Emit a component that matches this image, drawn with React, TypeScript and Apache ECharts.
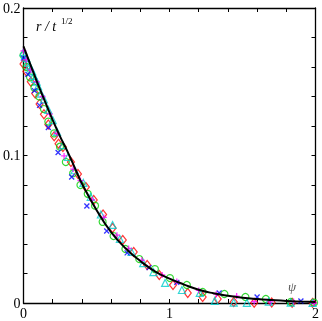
import React, { useEffect, useRef } from "react";
import * as echarts from "echarts";

const curveX = [0, 0.05, 0.1, 0.15, 0.2, 0.25, 0.3, 0.35, 0.4, 0.5, 0.6, 0.7, 0.8, 0.9, 1.0, 1.1, 1.2, 1.3, 1.4, 1.5, 1.6, 1.7, 1.8, 1.9, 2.0];
const curveY = [0.174, 0.161, 0.148, 0.136, 0.124, 0.113, 0.103, 0.092, 0.081, 0.063, 0.048, 0.037, 0.0285, 0.0215, 0.0165, 0.0125, 0.009, 0.0066, 0.0049, 0.0036, 0.0027, 0.002, 0.0014, 0.001, 0.0007];

const redX = [0.0, 0.02, 0.05, 0.08, 0.11, 0.14, 0.17, 0.21, 0.24, 0.27, 0.325, 0.373, 0.427, 0.481, 0.545, 0.61, 0.68, 0.755, 0.847, 0.93, 1.024, 1.125, 1.227, 1.33, 1.44, 1.58, 1.7, 1.84, 1.98];
const redY = [0.162, 0.157, 0.15, 0.142, 0.135, 0.128, 0.121, 0.113, 0.108, 0.1058, 0.0956, 0.0875, 0.0786, 0.0698, 0.06, 0.0508, 0.0427, 0.0346, 0.0258, 0.019, 0.0122, 0.0068, 0.0041, 0.0027, 0.0007, 0.0002, 0.0003, 0.0002, 0.0001];

const greenX = [0.0, 0.02, 0.045, 0.075, 0.108, 0.14, 0.17, 0.21, 0.25, 0.29, 0.34, 0.39, 0.44, 0.49, 0.542, 0.617, 0.698, 0.793, 0.9, 1.003, 1.119, 1.227, 1.376, 1.52, 1.66, 1.83, 1.99];
const greenY = [0.168, 0.16, 0.153, 0.146, 0.14, 0.1315, 0.123, 0.115, 0.106, 0.0956, 0.088, 0.08, 0.074, 0.066, 0.055, 0.0454, 0.0366, 0.0298, 0.023, 0.0169, 0.0122, 0.0075, 0.0061, 0.0041, 0.0027, 0.0007, 0.0003];

const cyanX = [0.0, 0.01, 0.02, 0.03, 0.04, 0.05, 0.06, 0.07, 0.08, 0.09, 0.1, 0.12, 0.14, 0.17, 0.2, 0.23, 0.27, 0.305, 0.35, 0.41, 0.46, 0.53, 0.61, 0.66, 0.74, 0.82, 0.89, 0.97, 1.085, 1.207, 1.31, 1.44, 1.53, 1.68, 1.83, 1.98];
const cyanY = [0.17, 0.168, 0.166, 0.163, 0.161, 0.159, 0.157, 0.154, 0.152, 0.15, 0.147, 0.142, 0.138, 0.131, 0.124, 0.116, 0.107, 0.099, 0.09, 0.0814, 0.072, 0.06, 0.0529, 0.0434, 0.0346, 0.027, 0.021, 0.0136, 0.0088, 0.0068, 0.0014, 0.0003, 0.0001, 0.001, 0.0003, 0.0];

const blueX = [0.0, 0.03, 0.075, 0.11, 0.17, 0.237, 0.33, 0.434, 0.57, 0.71, 0.86, 1.05, 1.34, 1.6, 1.9];
const blueY = [0.166, 0.155, 0.144, 0.134, 0.119, 0.102, 0.0854, 0.0658, 0.0488, 0.034, 0.024, 0.014, 0.0068, 0.0041, 0.0014];

const magentaX = [0.0, 0.02, 0.05, 0.09, 0.13, 0.18, 0.23, 0.278, 0.34, 0.39, 0.47, 0.55, 0.64, 0.72, 0.81, 0.95, 1.05, 1.2, 1.32, 1.46, 1.58, 1.69, 1.85, 1.99];
const magentaY = [0.171, 0.165, 0.158, 0.15, 0.14, 0.128, 0.115, 0.0997, 0.0908, 0.083, 0.07, 0.058, 0.046, 0.037, 0.029, 0.019, 0.0145, 0.0085, 0.006, 0.0047, 0.001, 0.0007, 0.001, 0.0];

const xTickLabels = ["0", "1", "2"];
const yTickLabels = ["0", "0.1", "0.2"];

const zip = (xs: number[], ys: number[]) => xs.map((x, i) => [x, ys[i]]);

const FONT = "'Liberation Serif', 'DejaVu Serif', serif";

export default function App() {
  const ref = useRef<HTMLDivElement>(null);
  useEffect(() => {
    if (!ref.current) return;
    const chart = echarts.init(ref.current, undefined, { renderer: "svg" });
    const fmtX = (v: number) => {
      const s = String(Math.round(v * 10) / 10);
      return xTickLabels.includes(s) ? s : "";
    };
    const fmtY = (v: number) => {
      const s = String(Math.round(v * 100) / 100);
      return yTickLabels.includes(s) ? s : "";
    };
    const axisCommon = {
      type: "value" as const,
      axisLine: { show: true, onZero: false, lineStyle: { color: "#000", width: 1.3 } },
      axisTick: { show: true, inside: true, length: 4, lineStyle: { color: "#000", width: 1 } },
      splitLine: { show: false },
    };
    const scatterBase = {
      type: "scatter" as const,
      xAxisIndex: 0,
      yAxisIndex: 0,
      z: 3,
    };
    chart.setOption({
      animation: false,
      grid: { left: 22, right: 5, top: 8, bottom: 18, containLabel: false },
      xAxis: [
        {
          ...axisCommon,
          min: 0,
          max: 2,
          interval: 0.2,
          position: "bottom",
          axisLabel: { formatter: fmtX, color: "#000", fontFamily: FONT, fontSize: 14, margin: 3 },
        },
        {
          ...axisCommon,
          min: 0,
          max: 2,
          interval: 0.2,
          position: "top",
          axisLabel: { show: false },
        },
      ],
      yAxis: [
        {
          ...axisCommon,
          min: 0,
          max: 0.2,
          interval: 0.02,
          position: "left",
          axisLabel: { formatter: fmtY, color: "#000", fontFamily: FONT, fontSize: 14, margin: 3 },
        },
        {
          ...axisCommon,
          min: 0,
          max: 0.2,
          interval: 0.02,
          position: "right",
          axisLabel: { show: false },
        },
      ],
      series: [
        {
          ...scatterBase,
          data: zip(redX, redY),
          symbol: "diamond",
          symbolSize: [7, 9],
          itemStyle: { color: "transparent", borderColor: "#ff0000", borderWidth: 1.2 },
        },
        {
          ...scatterBase,
          data: zip(greenX, greenY),
          symbol: "circle",
          symbolSize: 7,
          itemStyle: { color: "transparent", borderColor: "#00d000", borderWidth: 1.2 },
        },
        {
          ...scatterBase,
          data: zip(cyanX, cyanY),
          symbol: "triangle",
          symbolSize: 7,
          itemStyle: { color: "transparent", borderColor: "#00cccc", borderWidth: 1.2 },
        },
        {
          ...scatterBase,
          data: zip(blueX, blueY),
          symbol: "path://M0,0L10,10M10,0L0,10",
          symbolSize: 5,
          itemStyle: { color: "transparent", borderColor: "#0000ff", borderWidth: 1.3 },
        },
        {
          ...scatterBase,
          data: zip(magentaX, magentaY),
          symbol: "path://M5,0L5,10M0,5L10,5",
          symbolSize: 6,
          itemStyle: { color: "transparent", borderColor: "#ff00ff", borderWidth: 1.3 },
        },
        {
          type: "line",
          data: zip(curveX, curveY),
          smooth: true,
          showSymbol: false,
          symbol: "none",
          lineStyle: { color: "#000", width: 2 },
          z: 4,
        },
      ],
      graphic: [
        {
          type: "text",
          left: 36,
          top: 19,
          style: { text: "r / t", font: `italic 14px ${FONT}`, fill: "#000" },
        },
        {
          type: "text",
          left: 61,
          top: 16,
          style: { text: "1/2", font: `9px ${FONT}`, fill: "#000" },
        },
        {
          type: "text",
          left: 288,
          top: 280,
          style: { text: "ψ", font: `italic 13px ${FONT}`, fill: "#555" },
        },
      ],
    });
    return () => chart.dispose();
  }, []);
  return <div ref={ref} style={{ position: "fixed", left: 0, top: 0, width: 322, height: 321 }} />;
}
